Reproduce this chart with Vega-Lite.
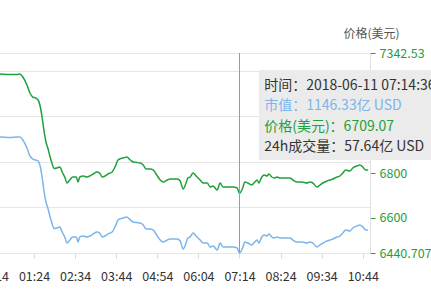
{
  "$schema": "https://vega.github.io/schema/vega-lite/v6.json",
  "width": 390,
  "height": 200,
  "autosize": {"type": "none"},
  "padding": {"left": -20, "right": 61, "top": 53, "bottom": 54},
  "background": "white",
  "config": {"view": {"stroke": null}, "font": "Noto Sans CJK SC", "axis": {"labelOverlap": false, "labelFlush": false}},
  "data": {"values": [
    {"t": "2018-06-11 00:09", "price": 7250.1, "mc": 1235.7},
    {"t": "2018-06-11 00:26", "price": 7247.8, "mc": 1235.7},
    {"t": "2018-06-11 00:43", "price": 7245.6, "mc": 1235.3},
    {"t": "2018-06-11 00:55", "price": 7245.6, "mc": 1235.7},
    {"t": "2018-06-11 01:00", "price": 7247.8, "mc": 1235.7},
    {"t": "2018-06-11 01:05", "price": 7234.3, "mc": 1233.4},
    {"t": "2018-06-11 01:12", "price": 7198.2, "mc": 1227.2},
    {"t": "2018-06-11 01:17", "price": 7162.2, "mc": 1221.1},
    {"t": "2018-06-11 01:22", "price": 7144.1, "mc": 1218.7},
    {"t": "2018-06-11 01:27", "price": 7139.6, "mc": 1218.0},
    {"t": "2018-06-11 01:31", "price": 7130.6, "mc": 1217.2},
    {"t": "2018-06-11 01:34", "price": 7108.1, "mc": 1214.1},
    {"t": "2018-06-11 01:38", "price": 7049.4, "mc": 1204.1},
    {"t": "2018-06-11 01:41", "price": 6990.8, "mc": 1194.1},
    {"t": "2018-06-11 01:44", "price": 6945.7, "mc": 1186.4},
    {"t": "2018-06-11 01:48", "price": 6909.7, "mc": 1180.2},
    {"t": "2018-06-11 01:51", "price": 6878.1, "mc": 1174.8},
    {"t": "2018-06-11 01:55", "price": 6842.0, "mc": 1168.7},
    {"t": "2018-06-11 01:58", "price": 6821.7, "mc": 1165.2},
    {"t": "2018-06-11 02:03", "price": 6824.0, "mc": 1165.6},
    {"t": "2018-06-11 02:08", "price": 6828.5, "mc": 1166.4},
    {"t": "2018-06-11 02:12", "price": 6805.9, "mc": 1162.5},
    {"t": "2018-06-11 02:17", "price": 6778.9, "mc": 1157.9},
    {"t": "2018-06-11 02:20", "price": 6756.3, "mc": 1154.0},
    {"t": "2018-06-11 02:25", "price": 6769.9, "mc": 1156.3},
    {"t": "2018-06-11 02:30", "price": 6783.4, "mc": 1158.7},
    {"t": "2018-06-11 02:36", "price": 6783.4, "mc": 1158.7},
    {"t": "2018-06-11 02:39", "price": 6760.9, "mc": 1154.8},
    {"t": "2018-06-11 02:42", "price": 6783.4, "mc": 1158.7},
    {"t": "2018-06-11 02:48", "price": 6787.9, "mc": 1159.4},
    {"t": "2018-06-11 02:54", "price": 6783.4, "mc": 1158.7},
    {"t": "2018-06-11 02:59", "price": 6787.9, "mc": 1159.4},
    {"t": "2018-06-11 03:05", "price": 6796.9, "mc": 1161.0},
    {"t": "2018-06-11 03:11", "price": 6805.9, "mc": 1162.5},
    {"t": "2018-06-11 03:16", "price": 6801.4, "mc": 1161.7},
    {"t": "2018-06-11 03:20", "price": 6783.4, "mc": 1158.7},
    {"t": "2018-06-11 03:25", "price": 6787.9, "mc": 1159.4},
    {"t": "2018-06-11 03:30", "price": 6796.9, "mc": 1161.0},
    {"t": "2018-06-11 03:37", "price": 6805.9, "mc": 1162.5},
    {"t": "2018-06-11 03:42", "price": 6828.5, "mc": 1166.4},
    {"t": "2018-06-11 03:47", "price": 6860.1, "mc": 1171.8},
    {"t": "2018-06-11 03:50", "price": 6864.6, "mc": 1172.5},
    {"t": "2018-06-11 03:56", "price": 6869.1, "mc": 1173.3},
    {"t": "2018-06-11 04:02", "price": 6873.6, "mc": 1174.1},
    {"t": "2018-06-11 04:08", "price": 6860.1, "mc": 1171.8},
    {"t": "2018-06-11 04:13", "price": 6851.0, "mc": 1170.2},
    {"t": "2018-06-11 04:19", "price": 6848.8, "mc": 1169.8},
    {"t": "2018-06-11 04:25", "price": 6846.5, "mc": 1169.4},
    {"t": "2018-06-11 04:30", "price": 6837.5, "mc": 1167.9},
    {"t": "2018-06-11 04:35", "price": 6819.5, "mc": 1164.8},
    {"t": "2018-06-11 04:42", "price": 6819.5, "mc": 1164.8},
    {"t": "2018-06-11 04:47", "price": 6815.0, "mc": 1164.1},
    {"t": "2018-06-11 04:53", "price": 6792.4, "mc": 1160.2},
    {"t": "2018-06-11 04:59", "price": 6769.9, "mc": 1156.3},
    {"t": "2018-06-11 05:04", "price": 6760.9, "mc": 1154.8},
    {"t": "2018-06-11 05:11", "price": 6769.9, "mc": 1156.3},
    {"t": "2018-06-11 05:16", "price": 6774.4, "mc": 1157.1},
    {"t": "2018-06-11 05:21", "price": 6774.4, "mc": 1157.1},
    {"t": "2018-06-11 05:28", "price": 6774.4, "mc": 1157.1},
    {"t": "2018-06-11 05:33", "price": 6765.4, "mc": 1155.6},
    {"t": "2018-06-11 05:38", "price": 6729.3, "mc": 1149.4},
    {"t": "2018-06-11 05:43", "price": 6756.3, "mc": 1154.0},
    {"t": "2018-06-11 05:46", "price": 6778.9, "mc": 1157.9},
    {"t": "2018-06-11 05:50", "price": 6783.4, "mc": 1158.7},
    {"t": "2018-06-11 05:55", "price": 6801.4, "mc": 1161.7},
    {"t": "2018-06-11 06:00", "price": 6787.9, "mc": 1159.4},
    {"t": "2018-06-11 06:07", "price": 6769.9, "mc": 1156.3},
    {"t": "2018-06-11 06:12", "price": 6756.3, "mc": 1154.0},
    {"t": "2018-06-11 06:19", "price": 6756.3, "mc": 1154.0},
    {"t": "2018-06-11 06:24", "price": 6738.3, "mc": 1151.0},
    {"t": "2018-06-11 06:29", "price": 6742.8, "mc": 1151.7},
    {"t": "2018-06-11 06:36", "price": 6724.8, "mc": 1148.6},
    {"t": "2018-06-11 06:41", "price": 6756.3, "mc": 1154.0},
    {"t": "2018-06-11 06:46", "price": 6738.3, "mc": 1151.0},
    {"t": "2018-06-11 06:53", "price": 6738.3, "mc": 1151.0},
    {"t": "2018-06-11 06:58", "price": 6738.3, "mc": 1151.0},
    {"t": "2018-06-11 07:03", "price": 6738.3, "mc": 1151.0},
    {"t": "2018-06-11 07:10", "price": 6733.8, "mc": 1150.2},
    {"t": "2018-06-11 07:14", "price": 6709.07, "mc": 1146.33},
    {"t": "2018-06-11 07:20", "price": 6738.3, "mc": 1151.0},
    {"t": "2018-06-11 07:23", "price": 6760.9, "mc": 1154.8},
    {"t": "2018-06-11 07:28", "price": 6756.3, "mc": 1154.0},
    {"t": "2018-06-11 07:35", "price": 6747.3, "mc": 1152.5},
    {"t": "2018-06-11 07:40", "price": 6760.9, "mc": 1154.8},
    {"t": "2018-06-11 07:44", "price": 6769.9, "mc": 1156.3},
    {"t": "2018-06-11 07:47", "price": 6756.3, "mc": 1154.0},
    {"t": "2018-06-11 07:52", "price": 6783.4, "mc": 1158.7},
    {"t": "2018-06-11 07:56", "price": 6792.4, "mc": 1160.2},
    {"t": "2018-06-11 08:01", "price": 6787.9, "mc": 1159.4},
    {"t": "2018-06-11 08:04", "price": 6796.9, "mc": 1161.0},
    {"t": "2018-06-11 08:09", "price": 6783.4, "mc": 1158.7},
    {"t": "2018-06-11 08:13", "price": 6778.9, "mc": 1157.9},
    {"t": "2018-06-11 08:18", "price": 6783.4, "mc": 1158.7},
    {"t": "2018-06-11 08:23", "price": 6778.9, "mc": 1157.9},
    {"t": "2018-06-11 08:31", "price": 6778.9, "mc": 1157.9},
    {"t": "2018-06-11 08:40", "price": 6778.9, "mc": 1157.9},
    {"t": "2018-06-11 08:45", "price": 6769.9, "mc": 1156.3},
    {"t": "2018-06-11 08:52", "price": 6760.9, "mc": 1154.8},
    {"t": "2018-06-11 09:00", "price": 6760.9, "mc": 1154.8},
    {"t": "2018-06-11 09:09", "price": 6756.3, "mc": 1154.0},
    {"t": "2018-06-11 09:14", "price": 6760.9, "mc": 1154.8},
    {"t": "2018-06-11 09:19", "price": 6756.3, "mc": 1154.0},
    {"t": "2018-06-11 09:26", "price": 6738.3, "mc": 1151.0},
    {"t": "2018-06-11 09:31", "price": 6747.3, "mc": 1152.5},
    {"t": "2018-06-11 09:36", "price": 6756.3, "mc": 1154.0},
    {"t": "2018-06-11 09:43", "price": 6765.4, "mc": 1155.6},
    {"t": "2018-06-11 09:48", "price": 6769.9, "mc": 1156.3},
    {"t": "2018-06-11 09:53", "price": 6774.4, "mc": 1157.1},
    {"t": "2018-06-11 10:00", "price": 6783.4, "mc": 1158.7},
    {"t": "2018-06-11 10:05", "price": 6787.9, "mc": 1159.4},
    {"t": "2018-06-11 10:10", "price": 6801.4, "mc": 1161.7},
    {"t": "2018-06-11 10:15", "price": 6815.0, "mc": 1164.1},
    {"t": "2018-06-11 10:22", "price": 6810.5, "mc": 1163.3},
    {"t": "2018-06-11 10:27", "price": 6824.0, "mc": 1165.6},
    {"t": "2018-06-11 10:34", "price": 6833.0, "mc": 1167.1},
    {"t": "2018-06-11 10:39", "price": 6837.5, "mc": 1167.9},
    {"t": "2018-06-11 10:44", "price": 6828.5, "mc": 1166.4},
    {"t": "2018-06-11 10:49", "price": 6815.0, "mc": 1164.1},
    {"t": "2018-06-11 10:53", "price": 6815.0, "mc": 1164.1}
  ]},
  "layer": [
    {
      "mark": {"type": "line", "color": "#7cb5ec", "strokeWidth": 1.5, "interpolate": "monotone"},
      "encoding": {
        "x": {
          "field": "t", "type": "temporal",
          "scale": {"domain": [
            {"year": 2018, "month": 6, "date": 10, "hours": 23, "minutes": 52},
            {"year": 2018, "month": 6, "date": 11, "hours": 10, "minutes": 56, "seconds": 18}
          ]},
          "axis": {
            "title": null, "format": "%H:%M", "grid": false, "labelFlush": false, "labelOverlap": false,
            "values": [
              {"year": 2018, "month": 6, "date": 11, "hours": 0, "minutes": 14},
              {"year": 2018, "month": 6, "date": 11, "hours": 1, "minutes": 24},
              {"year": 2018, "month": 6, "date": 11, "hours": 2, "minutes": 34},
              {"year": 2018, "month": 6, "date": 11, "hours": 3, "minutes": 44},
              {"year": 2018, "month": 6, "date": 11, "hours": 4, "minutes": 54},
              {"year": 2018, "month": 6, "date": 11, "hours": 6, "minutes": 4},
              {"year": 2018, "month": 6, "date": 11, "hours": 7, "minutes": 14},
              {"year": 2018, "month": 6, "date": 11, "hours": 8, "minutes": 24},
              {"year": 2018, "month": 6, "date": 11, "hours": 9, "minutes": 34},
              {"year": 2018, "month": 6, "date": 11, "hours": 10, "minutes": 44}
            ],
            "domainColor": "#e6e6e6", "tickColor": "#d8d8d8", "tickSize": 5,
            "labelColor": "#333333", "labelFontSize": 12.5, "labelPadding": 12,
            "labelFont": "Noto Sans CJK SC"
          }
        },
        "y": {
          "field": "mc", "type": "quantitative",
          "scale": {"domain": [1146.33, 1300.4], "zero": false, "nice": false},
          "axis": {
            "orient": "left", "title": null, "values": [1146.33, 1181.8, 1216.4, 1251.9, 1286.5, 1300.4],
            "grid": true, "gridColor": "#e6e6e6", "domain": false, "ticks": false, "labels": false
          }
        }
      }
    },
    {
      "resolve": {"axis": {"y": "independent"}},
      "layer": [
        {
          "mark": {"type": "line", "color": "#1fa03c", "strokeWidth": 1.5, "interpolate": "monotone"},
          "encoding": {
            "x": {"field": "t", "type": "temporal"},
            "y": {
              "field": "price", "type": "quantitative",
              "scale": {"domain": [6440.707, 7342.53], "zero": false, "nice": false},
              "axis": {
                "orient": "right", "title": "价格(美元)", "grid": false,
                "values": [6440.707, 6600, 6800, 7342.53],
                "labelExpr": "datum.value + ''", "labelFlush": false, "labelOverlap": false,
                "domainColor": "#e0e0e0", "tickColor": "#1fa03c", "tickSize": 5, "labelPadding": 4,
                "labelColor": "#1fa03c", "labelFontSize": 12.5, "labelFont": "Noto Sans CJK SC",
                "titleAngle": 0, "titleX": 1, "titleY": -20, "titleAlign": "center", "titleBaseline": "middle",
                "titleColor": "#555555", "titleFontSize": 12, "titleFontWeight": "normal", "titleFont": "Noto Sans CJK SC"
              }
            }
          }
        },
        {
          "data": {"values": [{}]},
          "mark": {"type": "rule", "color": "#9a9a9a", "strokeWidth": 1},
          "encoding": {
            "x": {"datum": {"year": 2018, "month": 6, "date": 11, "hours": 7, "minutes": 14}, "type": "temporal"}
          }
        },
        {
          "data": {"values": [{}]},
          "mark": {"type": "rect", "color": "#ebebeb", "opacity": 1},
          "encoding": {
            "x": {"datum": {"year": 2018, "month": 6, "date": 11, "hours": 7, "minutes": 47}, "type": "temporal"},
            "x2": {"datum": {"year": 2018, "month": 6, "date": 11, "hours": 12, "minutes": 55}},
            "y": {"datum": 7265.9, "type": "quantitative", "axis": null},
            "y2": {"datum": 6860.1}
          }
        },
        {
          "data": {"values": [{}]},
          "mark": {"type": "text", "align": "left", "baseline": "middle", "fontSize": 14, "font": "Noto Sans CJK SC", "color": "#333333", "text": "时间：2018-06-11 07:14:36"},
          "encoding": {
            "x": {"datum": {"year": 2018, "month": 6, "date": 11, "hours": 7, "minutes": 56}, "type": "temporal"},
            "y": {"datum": 7193.7, "type": "quantitative", "axis": null}
          }
        },
        {
          "data": {"values": [{}]},
          "mark": {"type": "text", "align": "left", "baseline": "middle", "fontSize": 14, "font": "Noto Sans CJK SC", "color": "#7cb5ec", "text": "市值：1146.33亿 USD"},
          "encoding": {
            "x": {"datum": {"year": 2018, "month": 6, "date": 11, "hours": 7, "minutes": 56}, "type": "temporal"},
            "y": {"datum": 7101.3, "type": "quantitative", "axis": null}
          }
        },
        {
          "data": {"values": [{}]},
          "mark": {"type": "text", "align": "left", "baseline": "middle", "fontSize": 14, "font": "Noto Sans CJK SC", "color": "#1fa03c", "text": "价格(美元)：6709.07"},
          "encoding": {
            "x": {"datum": {"year": 2018, "month": 6, "date": 11, "hours": 7, "minutes": 56}, "type": "temporal"},
            "y": {"datum": 7008.9, "type": "quantitative", "axis": null}
          }
        },
        {
          "data": {"values": [{}]},
          "mark": {"type": "text", "align": "left", "baseline": "middle", "fontSize": 14, "font": "Noto Sans CJK SC", "color": "#333333", "text": "24h成交量：57.64亿 USD"},
          "encoding": {
            "x": {"datum": {"year": 2018, "month": 6, "date": 11, "hours": 7, "minutes": 56}, "type": "temporal"},
            "y": {"datum": 6916.5, "type": "quantitative", "axis": null}
          }
        }
      ]
    }
  ],
  "resolve": {"scale": {"y": "independent"}, "axis": {"y": "independent"}}
}
